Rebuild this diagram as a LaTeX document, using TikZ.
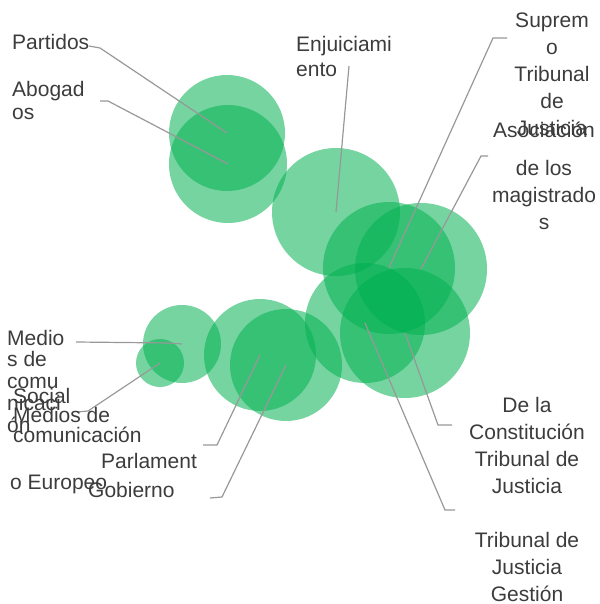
\documentclass[tikz,border=0pt]{standalone}
\usepackage{fontspec}
\setmainfont{Liberation Sans}
\definecolor{bubblegreen}{RGB}{0,176,80}
\definecolor{leadergray}{RGB}{152,152,152}
\definecolor{labeltext}{RGB}{60,60,60}
\begin{document}
\begin{tikzpicture}[x=1pt,y=-1pt,
  bubble/.style={circle, inner sep=0pt, draw=none, fill=bubblegreen, fill opacity=0.54},
  leaderline/.style={draw=leadergray, line width=1.2pt},
  lbl/.style={text=labeltext, inner sep=0pt, font=\fontsize{21}{27}\selectfont},
]
\useasboundingbox (0,0) rectangle (599,604);
% bubbles
\node[bubble, minimum size=116pt] (partidos) at (227,133) {};
\node[bubble, minimum size=118pt] (abogados) at (228,164) {};
\node[bubble, minimum size=128pt] (enjuic) at (336,212) {};
\node[bubble, minimum size=132pt] (supremo) at (389,268) {};
\node[bubble, minimum size=132pt] (asoc) at (421,269) {};
\node[bubble, minimum size=120pt] (gestion) at (365,323) {};
\node[bubble, minimum size=130pt] (constit) at (405,333) {};
\node[bubble, minimum size=78pt] (medios) at (182,344) {};
\node[bubble, minimum size=48pt] (social) at (160,363) {};
\node[bubble, minimum size=112pt] (parlam) at (260,355) {};
\node[bubble, minimum size=112pt] (gobierno) at (286,365) {};
% leader bends
\coordinate (pa1) at (89,46);   \coordinate (pa2) at (100,48);
\coordinate (ab1) at (100,101); \coordinate (ab2) at (108,101);
\coordinate (en1) at (349,66);
\coordinate (su1) at (507,38);  \coordinate (su2) at (493,38);
\coordinate (as1) at (488,156); \coordinate (as2) at (481,156);
\coordinate (me1) at (76,342);  \coordinate (me2) at (170,343);
\coordinate (so1) at (77,412);  \coordinate (so2) at (88,411);
\coordinate (pl1) at (203,445); \coordinate (pl2) at (217,445);
\coordinate (go1) at (210,498); \coordinate (go2) at (222,497);
\coordinate (co1) at (452,425); \coordinate (co2) at (438,425);
\coordinate (ge1) at (455,510); \coordinate (ge2) at (445,510);
% leaders
\draw[leaderline] (pa1) -- (pa2) -- (partidos.center);
\draw[leaderline] (ab1) -- (ab2) -- (abogados.center);
\draw[leaderline] (en1) -- (enjuic.center);
\draw[leaderline] (su1) -- (su2) -- (supremo.center);
\draw[leaderline] (as1) -- (as2) -- (asoc.center);
\draw[leaderline] (me1) -- (me2) -- (medios.center);
\draw[leaderline] (so1) -- (so2) -- (social.center);
\draw[leaderline] (pl1) -- (pl2) -- (parlam.center);
\draw[leaderline] (go1) -- (go2) -- (gobierno.center);
\draw[leaderline] (co1) -- (co2) -- (constit.center);
\draw[leaderline] (ge1) -- (ge2) -- (gestion.center);
% labels (anchor=base is the baseline of the last line)
\node[lbl, anchor=base west] (lpartidos) at (12,50) {Partidos};
\node[lbl, anchor=base west, align=left, font=\fontsize{21}{23}\selectfont] (labogados) at (12,120) {Abogad\\os};
\node[lbl, anchor=base west, align=left, font=\fontsize{21}{25}\selectfont] (lenjuic) at (296,77) {Enjuiciami\\ento};
\node[lbl, anchor=base, align=center] (lsupremo) at (552,136) {Suprem\\o\\Tribunal\\de\\Justicia};
\node[lbl, anchor=base, align=center] (lasoc) at (544,229) {Asociación\\[11pt]de los\\magistrado\\s};
\node[lbl, anchor=base west, align=left, font=\fontsize{21}{21.7}\selectfont] (lmedios) at (7,432) {Medio\\s de\\comu\\nicaci\\ón};
\node[lbl, anchor=base west, align=left, font=\fontsize{21}{19.5}\selectfont] (lsocial) at (13,442) {Social\\Medios de\\comunicación};
\node[lbl, anchor=base west, align=left, font=\fontsize{21}{21}\selectfont] (lparlam) at (10,489) {\hspace*{91pt}Parlament\\o Europeo};
\node[lbl, anchor=base west] (lgobierno) at (88,497) {Gobierno};
\node[lbl, anchor=base, align=center] (lconstit) at (527,493) {De la\\Constitución\\Tribunal de\\Justicia};
\node[lbl, anchor=base, align=center] (lgestion) at (527,601) {Tribunal de\\Justicia\\Gestión};
\end{tikzpicture}
\end{document}
